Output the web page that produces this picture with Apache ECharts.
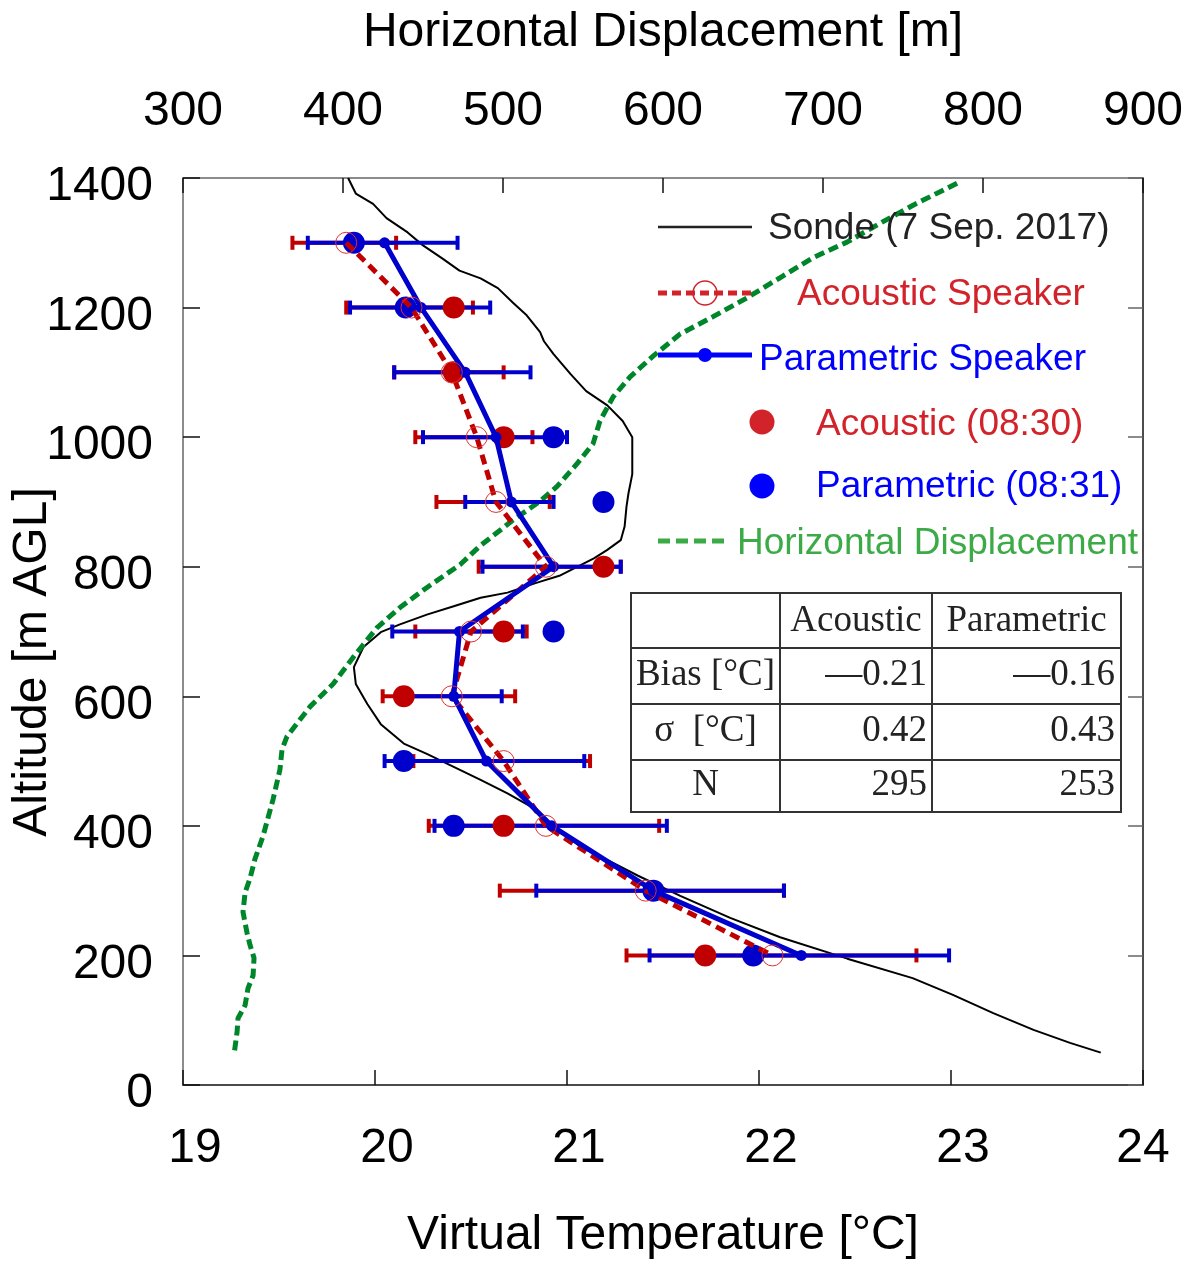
<!DOCTYPE html>
<html>
<head>
<meta charset="utf-8">
<script src="https://cdn.jsdelivr.net/npm/echarts@6/dist/echarts.min.js"></script>
<style>
html,body{margin:0;padding:0;background:#fff;overflow:hidden;}
#chart{width:1187px;height:1265px;}
</style>
</head>
<body>
<div id="chart"></div>
<script>
// ---------- data ----------
const altitudes = [1300, 1200, 1100, 1000, 900, 800, 700, 600, 500, 400, 300, 200];

const acousticMean = [19.85, 20.19, 20.40, 20.53, 20.63, 20.89, 20.50, 20.40, 20.67, 20.89, 21.41, 22.07];
const acousticLow  = [19.57, 19.85, 20.10, 20.21, 20.32, 20.54, 20.21, 20.04, 20.20, 20.28, 20.65, 21.31];
const acousticHigh = [20.11, 20.51, 20.67, 20.82, 20.91, 21.28, 20.79, 20.73, 21.12, 21.48, 22.13, 22.82];

const parametricMean = [20.05, 20.24, 20.47, 20.63, 20.71, 20.93, 20.44, 20.41, 20.58, 20.92, 21.45, 22.22];
const parametricLow  = [19.65, 19.87, 20.10, 20.25, 20.47, 20.56, 20.09, 20.15, 20.05, 20.31, 20.84, 21.43];
const parametricHigh = [20.43, 20.60, 20.81, 21.00, 20.93, 21.28, 20.77, 20.66, 21.09, 21.52, 22.13, 22.99];

const acoustic0830   = [null, 20.41, 20.41, 20.67, null, 21.19, 20.67, 20.15, null, 20.67, null, 21.72];
const parametric0831 = [19.89, 20.16, null, 20.93, 21.19, null, 20.93, null, 20.15, 20.41, 21.45, 21.97];

const sondeTemp = [19.86,19.90,19.99,20.06,20.17,20.25,20.35,20.44,20.55,20.64,20.72,20.79,20.86,20.88,20.93,21.02,21.10,21.21,21.29,21.34,21.34,21.34,21.32,21.31,21.30,21.28,21.21,21.14,20.96,20.84,20.69,20.55,20.41,20.27,20.13,20.03,19.94,19.89,19.90,19.96,20.03,20.15,20.27,20.41,20.55,20.69,20.81,20.93,21.07,21.24,21.37,21.59,21.85,22.11,22.46,22.80,23.01,23.22,23.43,23.62,23.78];
const sondeAlt  = [1400,1376,1360,1338,1316,1296,1276,1257,1245,1230,1207,1188,1162,1148,1128,1097,1071,1049,1025,1000,969,943,913,893,862,841,826,813,786,775,760,752,739,726,711,699,676,645,619,588,557,527,511,491,471,450,430,399,368,343,323,292,258,228,195,165,139,111,85,65,50];

const dispValue = [783.8,756.3,735.6,715.0,693.8,673.1,652.5,631.3,610.6,593.8,579.4,568.8,560.6,556.3,546.3,533.8,523.1,506.3,485.6,473.1,452.5,435.6,421.3,406.3,393.8,379.4,365.0,361.9,360.6,356.3,350.0,345.0,341.9,338.8,337.5,340.0,341.9,344.4,343.8,340.6,338.8,334.4,333.8,331.9];
const dispAlt   = [1392,1358,1330,1301,1277,1246,1215,1186,1159,1125,1093,1062,1025,990,959,924,901,872,832,803,768,737,706,660,619,584,538,518,487,441,384,349,319,297,267,235,216,196,169,149,123,103,82,47];

const tempTicks = [19, 20, 21, 22, 23, 24];
const dispTicks = [300, 400, 500, 600, 700, 800, 900];
const altTicks  = [0, 200, 400, 600, 800, 1000, 1200, 1400];

const tableHeader = ['', 'Acoustic', 'Parametric'];
const tableRows = [
  ['Bias [°C]', '—0.21', '—0.16'],
  ['σ  [°C]', '0.42', '0.43'],
  ['N', '295', '253']
];

const legendLabels = ['Sonde (7 Sep. 2017)', 'Acoustic Speaker', 'Parametric Speaker', 'Acoustic (08:30)', 'Parametric (08:31)', 'Horizontal Displacement'];

// ---------- helpers ----------
const SANS = 'Liberation Sans, Arial, Helvetica, sans-serif';
const SERIF = 'Liberation Serif, Times New Roman, serif';
const RED = '#c00000';
const BLUE = '#0000cc';

function pairs(xs, ys) { return xs.map((x, i) => [x, ys[i]]); }
function pointsAt(vals) {
  const out = [];
  vals.forEach((v, i) => { if (v !== null) out.push([v, altitudes[i]]); });
  return out;
}
function errData(lo, hi) { return altitudes.map((a, i) => [lo[i], hi[i], a]); }
function errRender(color) {
  return function (params, api) {
    const y = api.value(2);
    const p1 = api.coord([api.value(0), y]);
    const p2 = api.coord([api.value(1), y]);
    const h = 7;
    const st = { stroke: color, lineWidth: 4 };
    return {
      type: 'group',
      children: [
        { type: 'line', shape: { x1: p1[0], y1: p1[1], x2: p2[0], y2: p2[1] }, style: st },
        { type: 'line', shape: { x1: p1[0], y1: p1[1] - h, x2: p1[0], y2: p1[1] + h }, style: st },
        { type: 'line', shape: { x1: p2[0], y1: p2[1] - h, x2: p2[0], y2: p2[1] + h }, style: st }
      ]
    };
  };
}

// ---------- graphic: legend, table, y title ----------
const graphic = [];
graphic.push({
  type: 'text', x: 33, y: 662, rotation: Math.PI / 2,
  style: { text: 'Altitude [m AGL]', font: '48px ' + SANS, fill: '#000', textAlign: 'center', textVerticalAlign: 'middle' }
});
const LX0 = 658, LX1 = 752;
const LFONT = '37px ' + SANS;
graphic.push({ type: 'line', shape: { x1: LX0, y1: 227, x2: LX1, y2: 227 }, style: { stroke: '#222', lineWidth: 2.5 }, z: 100 });
graphic.push({ type: 'text', x: 768, y: 229, style: { text: legendLabels[0], font: LFONT, fill: '#222', textVerticalAlign: 'middle' }, z: 100 });

graphic.push({ type: 'line', shape: { x1: LX0, y1: 293, x2: LX1, y2: 293 }, style: { stroke: '#d2232a', lineWidth: 5, lineDash: [9, 5] }, z: 100 });
graphic.push({ type: 'circle', shape: { cx: 705, cy: 293, r: 12 }, style: { stroke: '#d2232a', fill: 'none', lineWidth: 1.5 }, z: 101 });
graphic.push({ type: 'text', x: 797, y: 295, style: { text: legendLabels[1], font: LFONT, fill: '#d2232a', textVerticalAlign: 'middle' }, z: 100 });

graphic.push({ type: 'line', shape: { x1: LX0, y1: 355, x2: LX1, y2: 355 }, style: { stroke: '#0000ff', lineWidth: 5 }, z: 100 });
graphic.push({ type: 'circle', shape: { cx: 705, cy: 355, r: 7 }, style: { fill: '#0000ff' }, z: 101 });
graphic.push({ type: 'text', x: 759, y: 360, style: { text: legendLabels[2], font: LFONT, fill: '#0000ff', textVerticalAlign: 'middle' }, z: 100 });

graphic.push({ type: 'circle', shape: { cx: 762, cy: 422, r: 12.5 }, style: { fill: '#d2232a' }, z: 100 });
graphic.push({ type: 'text', x: 816, y: 425, style: { text: legendLabels[3], font: LFONT, fill: '#d2232a', textVerticalAlign: 'middle' }, z: 100 });

graphic.push({ type: 'circle', shape: { cx: 762, cy: 486, r: 12.5 }, style: { fill: '#0000ff' }, z: 100 });
graphic.push({ type: 'text', x: 816, y: 487, style: { text: legendLabels[4], font: LFONT, fill: '#0000ff', textVerticalAlign: 'middle' }, z: 100 });

graphic.push({ type: 'line', shape: { x1: LX0, y1: 541, x2: 728, y2: 541 }, style: { stroke: '#3caa46', lineWidth: 5, lineDash: [12, 6] }, z: 100 });
graphic.push({ type: 'text', x: 737, y: 544, style: { text: legendLabels[5], font: LFONT, fill: '#3caa46', textVerticalAlign: 'middle' }, z: 100 });

// table
const TX = [631, 780, 932, 1121];
const TY = [593, 648, 704, 760, 812];
graphic.push({ type: 'rect', shape: { x: TX[0], y: TY[0], width: TX[3] - TX[0], height: TY[4] - TY[0] }, style: { fill: '#fff', stroke: '#333', lineWidth: 2 }, z: 90 });
[TX[1], TX[2]].forEach(x => graphic.push({ type: 'line', shape: { x1: x, y1: TY[0], x2: x, y2: TY[4] }, style: { stroke: '#333', lineWidth: 2 }, z: 91 }));
[TY[1], TY[2], TY[3]].forEach(y => graphic.push({ type: 'line', shape: { x1: TX[0], y1: y, x2: TX[3], y2: y }, style: { stroke: '#333', lineWidth: 2 }, z: 91 }));
const rowMid = [621, 675, 731, 785];
const TFONT = '37px ' + SERIF;
graphic.push({ type: 'text', x: (TX[1] + TX[2]) / 2, y: rowMid[0], style: { text: tableHeader[1], font: TFONT, fill: '#222', textAlign: 'center', textVerticalAlign: 'middle' }, z: 92 });
graphic.push({ type: 'text', x: (TX[2] + TX[3]) / 2, y: rowMid[0], style: { text: tableHeader[2], font: TFONT, fill: '#222', textAlign: 'center', textVerticalAlign: 'middle' }, z: 92 });
tableRows.forEach((r, i) => {
  graphic.push({ type: 'text', x: (TX[0] + TX[1]) / 2, y: rowMid[i + 1], style: { text: r[0], font: TFONT, fill: '#222', textAlign: 'center', textVerticalAlign: 'middle' }, z: 92 });
  graphic.push({ type: 'text', x: TX[2] - 5, y: rowMid[i + 1], style: { text: r[1], font: TFONT, fill: '#222', textAlign: 'right', textVerticalAlign: 'middle' }, z: 92 });
  graphic.push({ type: 'text', x: TX[3] - 6, y: rowMid[i + 1], style: { text: r[2], font: TFONT, fill: '#222', textAlign: 'right', textVerticalAlign: 'middle' }, z: 92 });
});

// ---------- chart ----------
const chart = echarts.init(document.getElementById('chart'), null, { renderer: 'canvas' });
const labelBase = { fontSize: 48, color: '#000', fontFamily: SANS };
const option = {
  animation: false,
  backgroundColor: '#fff',
  grid: { left: 183, width: 960, top: 178, height: 912 },
  xAxis: [
    {
      type: 'value', position: 'bottom', min: tempTicks[0], max: tempTicks[tempTicks.length - 1], interval: 1,
      axisLine: { show: true, onZero: false, lineStyle: { color: '#111', width: 1.5 } },
      axisTick: { show: true, inside: true, length: 15, lineStyle: { color: '#111', width: 1.5 } },
      splitLine: { show: false },
      axisLabel: {
        margin: 40,
        formatter: v => (v === 24 ? '{e|' + v + '}' : '{n|' + v + '}'),
        rich: { n: Object.assign({ padding: [0, 0, 0, 24] }, labelBase), e: Object.assign({}, labelBase) }
      },
      name: 'Virtual Temperature [°C]', nameLocation: 'middle', nameGap: 127,
      nameTextStyle: { fontSize: 48, color: '#000', fontFamily: SANS }
    },
    {
      type: 'value', position: 'top', min: dispTicks[0], max: dispTicks[dispTicks.length - 1], interval: 100,
      axisLine: { show: true, onZero: false, lineStyle: { color: '#666', width: 1.5 } },
      axisTick: { show: true, inside: true, length: 15, lineStyle: { color: '#111', width: 1.5 } },
      splitLine: { show: false },
      axisLabel: Object.assign({ margin: 42 }, labelBase),
      name: 'Horizontal Displacement [m]', nameLocation: 'middle', nameGap: 121,
      nameTextStyle: { fontSize: 48, color: '#000', fontFamily: SANS }
    }
  ],
  yAxis: [
    {
      type: 'value', position: 'left', min: altTicks[0], max: altTicks[altTicks.length - 1], interval: 200,
      axisLine: { show: true, onZero: false, lineStyle: { color: '#666', width: 1.5 } },
      axisTick: { show: true, inside: true, length: 17, lineStyle: { color: '#111', width: 1.5 } },
      splitLine: { show: false },
      axisLabel: {
        margin: 30,
        formatter: v => '{n|' + String(v) + '}',
        rich: { n: Object.assign({ padding: [18, 0, 0, 0] }, labelBase) }
      }
    },
    {
      type: 'value', position: 'right', min: altTicks[0], max: altTicks[altTicks.length - 1], interval: 200,
      axisLine: { show: true, onZero: false, lineStyle: { color: '#111', width: 1.5 } },
      axisTick: { show: true, inside: true, length: 15, lineStyle: { color: '#666', width: 1.5 } },
      splitLine: { show: false },
      axisLabel: { show: false }
    }
  ],
  series: [
    {
      name: 'Sonde', type: 'line', xAxisIndex: 0, yAxisIndex: 0, data: pairs(sondeTemp, sondeAlt),
      showSymbol: false, symbol: 'none', lineStyle: { color: '#000', width: 2 }, z: 1, silent: true
    },
    {
      name: 'Horizontal Displacement', type: 'line', xAxisIndex: 1, yAxisIndex: 0, data: pairs(dispValue, dispAlt),
      showSymbol: false, symbol: 'none', lineStyle: { color: '#00862a', width: 5, type: [10, 5] }, z: 2, silent: true
    },
    {
      name: 'Acoustic err', type: 'custom', xAxisIndex: 0, yAxisIndex: 0, renderItem: errRender(RED),
      data: errData(acousticLow, acousticHigh), encode: { x: [0, 1], y: 2 }, z: 3, silent: true
    },
    {
      name: 'Parametric err', type: 'custom', xAxisIndex: 0, yAxisIndex: 0, renderItem: errRender(BLUE),
      data: errData(parametricLow, parametricHigh), encode: { x: [0, 1], y: 2 }, z: 4, silent: true
    },
    {
      name: 'Acoustic (08:30)', type: 'scatter', xAxisIndex: 0, yAxisIndex: 0, data: pointsAt(acoustic0830),
      symbol: 'circle', symbolSize: 22, itemStyle: { color: RED, opacity: 1 }, z: 5, silent: true
    },
    {
      name: 'Parametric (08:31)', type: 'scatter', xAxisIndex: 0, yAxisIndex: 0, data: pointsAt(parametric0831),
      symbol: 'circle', symbolSize: 22, itemStyle: { color: BLUE, opacity: 1 }, z: 6, silent: true
    },
    {
      name: 'Acoustic Speaker', type: 'line', xAxisIndex: 0, yAxisIndex: 0, data: pairs(acousticMean, altitudes),
      showSymbol: false, symbol: 'none', lineStyle: { color: RED, width: 5, type: [10, 6] }, z: 7, silent: true
    },
    {
      name: 'Parametric Speaker', type: 'line', xAxisIndex: 0, yAxisIndex: 0, data: pairs(parametricMean, altitudes),
      symbol: 'circle', symbolSize: 11, showSymbol: true, itemStyle: { color: BLUE, opacity: 1 }, lineStyle: { color: BLUE, width: 5 }, z: 8, silent: true
    },
    {
      name: 'Acoustic Speaker circles', type: 'scatter', xAxisIndex: 0, yAxisIndex: 0, data: pairs(acousticMean, altitudes),
      symbol: 'circle', symbolSize: 21, itemStyle: { color: 'rgba(0,0,0,0)', borderColor: '#e03030', borderWidth: 1, opacity: 1 }, z: 9, silent: true
    }
  ],
  graphic: graphic
};
chart.setOption(option);
</script>
</body>
</html>
